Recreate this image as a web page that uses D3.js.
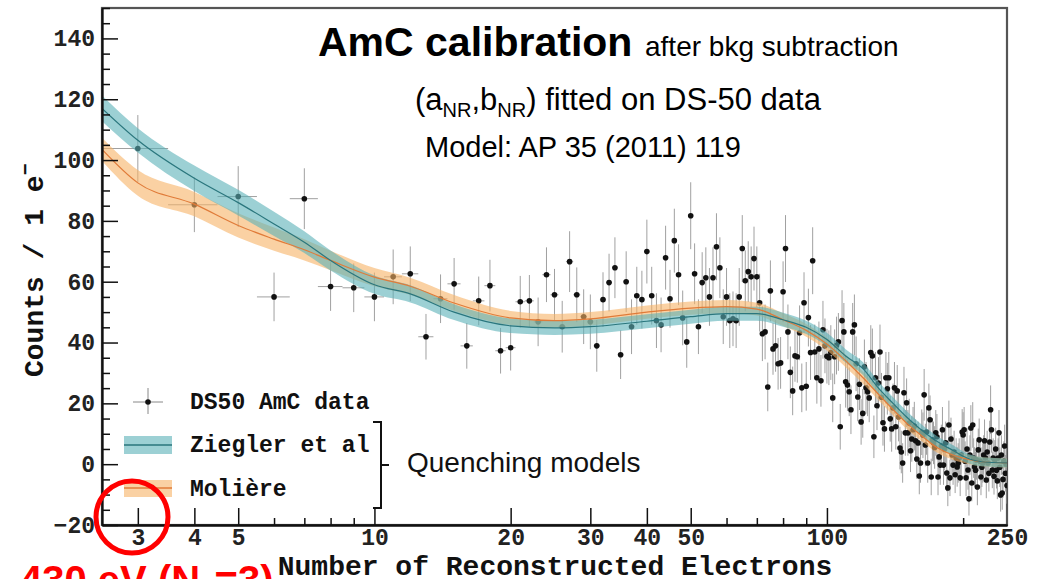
<!DOCTYPE html>
<html>
<head>
<meta charset="utf-8">
<script src="https://cdn.jsdelivr.net/npm/d3@7"></script>
<style>
  body { margin: 0; background: #fff; }
  .mono { font-family: "Liberation Mono", "Courier New", monospace; font-weight: bold; }
  .sans { font-family: "Liberation Sans", Arial, sans-serif; }
</style>
</head>
<body>
<div id="chart"></div>
<script>
// one histogram bin per reconstructed electron, N = 3 ... 250
var nElectrons = d3.range(3, 251);

// counts per bin (after bkg subtraction)
var counts = [
  103.8, 85.3, 88, 55, 87.3, 58.4, 58, 55,
  61.6, 62.6, 41.9, 54.4, 59.3, 38.9, 53.7, 58.7, 37.3, 38.3,
  53.4, 53.7, 46.8, 62.3, 55.7, 45.2, 66.6, 55.7, 48.5, 46.8,
  38.9, 54.1, 59.7, 64.6, 36, 60, 45.2, 55.4, 54.1, 69.9,
  55.4, 47.2, 45.8, 67.9, 54.4, 73.5, 62.3, 48.1, 40.2, 81.7,
  62.6, 45.2, 59.7, 61.3, 55, 61.3, 71.5, 64.6, 48.5, 55,
  47.2, 47.8, 47.2, 55, 70.9, 60.3, 63.3, 61.6, 67.6, 61.6,
  53.1, 42.9, 43.5, 25.4, 57, 37.9, 38.9, 33, 33.3, 56.7,
  70.9, 43.5, 30.2, 24.1, 35.6, 35.3, 43.2, 25.1, 53.1, 25.6,
  48.2, 36.7, 66.9, 36.9, 28.4, 37.9, 27.4, 44.2, 38.9, 35.5,
  35, 36.7, 21.8, 35.3, 39, 40.2, 12.3, 47.2, 43.5, 27.1,
  26, 23.8, 17.9, 43.5, 45.8, 33, 22.1, 26.3, 13.9, 16.7,
  32, 25.1, 23.8, 21.8, 36.7, 35.6, 9, 28.4, 19.2, 26.7,
  36.9, 22, 13.6, 11.6, 28.4, 24.8, 28.4, 14.9, 11.6, 18.5,
  25.1, 12.3, 24.1, 15.5, 5.3, 4, 0.4, 23.5, 10.3, 20.2,
  10.3, 13.5, 4.4, 8.3, 11.3, 12.5, 7.7, 1.7, 7, -3.9,
  0.4, 10.5, 9.5, 22.8, 6.3, 10.6, 0.4, 18.5, 14.6, -4.2,
  8, 7, 5.5, 10.3, 9, -4.2, 2.4, -0.3, 6, 11.3,
  -0.3, 5, 7, -2.9, -7.8, 12.9, -4.5, 8.3, 3, -0.3,
  4, -3.5, 2, -0.9, 0.4, 2, -4.5, 3, 10.6, 9.6,
  11.3, 1, -4.5, 5, -1.9, -11.4, 3, 11.9, -6.2, 12.9,
  2, -0.9, -2, 1.4, -7.5, 4.7, 8, 1, -4.2, -1,
  0.4, 3, 7.7, 2, -5.2, 4, 0.4, -3, 7.3, 17.9,
  11.3, -1.9, 2, -4, 1.4, 5, -2, -5.5, 2, 10.3,
  -1, -10.1, 3, -9.5, -5, 1, 6, -3, 0, -7
];

// half length of the vertical error bars
var errors = [
  11, 9, 10, 8, 10, 8, 8, 8,
  9, 9, 7.5, 8, 8.5, 7.5, 8, 8.5, 7.5, 7.5,
  8.5, 8.5, 8, 9, 8.5, 8.5, 10, 9, 9, 9,
  8.5, 9, 9.5, 10, 8, 10, 9, 9.5, 9.5, 10.5,
  9.5, 9, 9, 10.5, 9.5, 10.5, 10, 9, 8.5, 11,
  10, 9, 10, 10, 9.5, 10, 11, 10, 9, 9.5,
  9, 9, 9, 9.5, 11, 10, 10, 10, 10.5, 10,
  9.5, 9, 9, 8, 10, 8.5, 8.5, 8.5, 8.5, 10,
  11, 9, 8.5, 8, 8.5, 8.5, 9, 8, 10, 8,
  9.5, 9, 11, 9, 8.5, 9, 8.5, 9.5, 9, 9,
  9, 9, 8, 9, 9.5, 9.5, 7.5, 10, 9.5, 8.5,
  8.5, 8, 8, 9.5, 10, 9, 8, 8.5, 7.5, 8,
  9, 8.5, 8, 8, 9, 9, 7, 8.5, 8, 8.5,
  9, 8, 7.5, 7.5, 8.5, 8.5, 8.5, 7.5, 7.5, 8,
  8.5, 7.5, 8.5, 8, 7, 7, 6.5, 8.5, 7.5, 8,
  7.5, 8, 7, 7.5, 7.5, 8, 7, 6.5, 7, 6,
  6.5, 7.5, 7.5, 8.5, 7, 7.5, 6.5, 8, 8, 6,
  7, 7, 7, 7.5, 7.5, 6, 6.5, 6.5, 7, 7.5,
  6.5, 7, 7, 6, 6, 8, 6, 7, 6.5, 6.5,
  7, 6, 6.5, 6.5, 6.5, 6.5, 6, 6.5, 7.5, 7.5,
  7.5, 6.5, 6, 7, 6.5, 5.5, 6.5, 7.5, 6, 7.5,
  6.5, 6.5, 6, 6.5, 6, 7, 7, 6.5, 6, 6.5,
  6.5, 6.5, 7, 6.5, 6, 7, 6.5, 6, 7, 8,
  7.5, 6, 6.5, 6, 6.5, 7, 6, 6, 6.5, 7.5,
  6.5, 5.5, 6.5, 5.5, 6, 6.5, 7, 6, 6.5, 6
];

// quenching model curves
var modelN   = [2.5, 3, 4, 5, 6, 7, 8, 10, 12, 15, 20, 25, 30, 40, 50, 60, 70, 80, 90, 100,
                110, 120, 130, 140, 150, 160, 175, 190, 200, 220, 250];
var ziegler  = [117, 106.5, 94, 86, 79, 73, 67, 59, 56, 50, 45.5, 44.8, 45.2, 47, 48.5, 49.5, 49.5, 47.5, 45, 41,
                35.6, 31.5, 25, 20, 15.5, 11.8, 7.5, 4.5, 2.6, 0.8, 0.4];
var zieglerErr = [4.2, 4, 4.2, 4.2, 4, 3.6, 3.3, 3, 2.8, 2.6, 2.4, 2.3, 2.3, 2.3, 2.3, 2.3, 2.3, 2.3, 2.2, 2.2,
                  2.2, 2.1, 2.1, 2, 2, 1.9, 1.8, 1.7, 1.6, 1.5, 1.5];
var moliere  = [103.5, 92.5, 85.5, 78.5, 74, 70.5, 67, 61.5, 58.5, 53, 48.1, 47.2, 47.8, 50, 51.3, 51.8, 51, 47.5, 44, 39.5,
                34, 28.5, 23, 18, 13.5, 10, 5.5, 3, 2, 0.8, 0.4];
var moliereErr = [3.8, 4.2, 4, 4, 3.8, 3.5, 3.2, 3, 2.8, 2.6, 2.3, 2.2, 2.2, 2.2, 2.2, 2.2, 2.1, 2.1, 2.1, 2.1,
                  2.1, 2, 2, 1.9, 1.9, 1.8, 1.7, 1.6, 1.5, 1.5, 1.5];

// axis ticks
var xMajorTicks = [3, 4, 5, 10, 20, 30, 40, 50, 100];
var xMinorTicks = [6, 7, 8, 9, 60, 70, 80, 90, 200];
var xEndLabel = [250];
var yMajorTicks = [-20, 0, 20, 40, 60, 80, 100, 120, 140];
var yMinorTicks = d3.range(-15, 151, 5).filter(function(v) { return v % 20 !== 0; });

var W = 1041, H = 579;
var pLeft = 102, pRight = 1007, pTop = 8, pBottom = 525;

var svg = d3.select("#chart").append("svg")
    .attr("width", W)
    .attr("height", H)
    .style("display", "block");

svg.append("rect").attr("width", W).attr("height", H).attr("fill", "#fff");

var x = d3.scaleLog().domain([2.5, 250]).range([pLeft, pRight]);
var y = d3.scaleLinear().domain([-20, 150]).range([pBottom, pTop]);

svg.append("defs").append("clipPath").attr("id", "plotclip")
    .append("rect")
    .attr("x", pLeft).attr("y", pTop)
    .attr("width", pRight - pLeft).attr("height", pBottom - pTop);

// frame
svg.append("rect")
    .attr("x", pLeft).attr("y", pTop)
    .attr("width", pRight - pLeft).attr("height", pBottom - pTop)
    .attr("fill", "none")
    .attr("stroke", "#555")
    .attr("stroke-width", 2.2);

var data = nElectrons.map(function(n, i) {
    return { n: n, v: counts[i], e: errors[i] };
});

var plot = svg.append("g").attr("clip-path", "url(#plotclip)");

// error bars
var bars = plot.append("g").attr("stroke", "#a0a0a0").attr("stroke-width", 1);
bars.selectAll("line.v")
    .data(data).enter().append("line")
    .attr("class", "v")
    .attr("x1", function(d) { return x(d.n); })
    .attr("x2", function(d) { return x(d.n); })
    .attr("y1", function(d) { return y(d.v - d.e); })
    .attr("y2", function(d) { return y(d.v + d.e); });
bars.selectAll("line.h")
    .data(data).enter().append("line")
    .attr("class", "h")
    .attr("x1", function(d) { return x(d.n - 0.5); })
    .attr("x2", function(d) { return x(d.n + 0.5); })
    .attr("y1", function(d) { return y(d.v); })
    .attr("y2", function(d) { return y(d.v); });

// data points
plot.append("g").selectAll("circle")
    .data(data).enter().append("circle")
    .attr("cx", function(d) { return x(d.n); })
    .attr("cy", function(d) { return y(d.v); })
    .attr("r", 2.8)
    .attr("fill", "#111");

// model bands
function modelRows(vals, errs) {
    return modelN.map(function(n, i) { return { n: n, v: vals[i], e: errs[i] }; });
}
var band = d3.area()
    .x(function(d) { return x(d.n); })
    .y0(function(d) { return y(d.v - d.e); })
    .y1(function(d) { return y(d.v + d.e); })
    .curve(d3.curveMonotoneX);
var line = d3.line()
    .x(function(d) { return x(d.n); })
    .y(function(d) { return y(d.v); })
    .curve(d3.curveMonotoneX);

var molRows = modelRows(moliere, moliereErr);
var zieRows = modelRows(ziegler, zieglerErr);

var orangeFill = "#f7b266", orangeLine = "#e07b39";
var tealFill = "#5ab0b8", tealLine = "#2a767d";

plot.append("path").datum(molRows)
    .attr("d", band).attr("fill", orangeFill).attr("fill-opacity", 0.6);
plot.append("path").datum(zieRows)
    .attr("d", band).attr("fill", tealFill).attr("fill-opacity", 0.6);
plot.append("path").datum(molRows)
    .attr("d", line).attr("fill", "none").attr("stroke", orangeLine).attr("stroke-width", 1.2);
plot.append("path").datum(zieRows)
    .attr("d", line).attr("fill", "none").attr("stroke", tealLine).attr("stroke-width", 1.2);

// axes
function styleAxis(g) {
    g.selectAll("line").attr("stroke", "#111").attr("stroke-width", 1.5);
    g.selectAll("path").attr("stroke", "#111").attr("stroke-width", 1.8);
    g.selectAll("text")
        .attr("class", "mono")
        .style("font-size", "23px")
        .attr("fill", "#222");
}

svg.append("g")
    .attr("transform", "translate(0," + pBottom + ")")
    .call(d3.axisBottom(x).tickValues(xMinorTicks).tickSize(-7).tickSizeOuter(0).tickFormat(""))
    .call(styleAxis);
svg.append("g")
    .attr("transform", "translate(0," + pBottom + ")")
    .call(d3.axisBottom(x).tickValues(xMajorTicks).tickSize(-17).tickSizeOuter(0).tickPadding(4)
        .tickFormat(d3.format("d")))
    .call(styleAxis);
svg.append("g")
    .attr("transform", "translate(0," + pBottom + ")")
    .call(d3.axisBottom(x).tickValues(xEndLabel).tickSize(0).tickSizeOuter(0).tickPadding(4)
        .tickFormat(d3.format("d")))
    .call(styleAxis)
    .select(".domain").remove();

svg.append("g")
    .attr("transform", "translate(" + pLeft + ",0)")
    .call(d3.axisLeft(y).tickValues(yMinorTicks).tickSize(-8).tickSizeOuter(0).tickFormat(""))
    .call(styleAxis);
svg.append("g")
    .attr("transform", "translate(" + pLeft + ",0)")
    .call(d3.axisLeft(y).tickValues(yMajorTicks).tickSize(-16).tickSizeOuter(0).tickPadding(7))
    .call(styleAxis);

// axis titles
svg.append("text")
    .attr("class", "mono")
    .attr("x", 555).attr("y", 575)
    .attr("text-anchor", "middle")
    .style("font-size", "28px")
    .attr("fill", "#111")
    .text("Number of Reconstructed Electrons");

var yTitle = svg.append("text")
    .attr("class", "mono")
    .attr("transform", "translate(43,377) rotate(-90)")
    .style("font-size", "28px")
    .attr("fill", "#111");
yTitle.append("tspan").text("Counts / 1 e");
yTitle.append("tspan").attr("dy", -11).style("font-size", "20px").text("\u2212");

// legend
var lg = svg.append("g");
lg.append("line").attr("x1", 133).attr("x2", 163).attr("y1", 402).attr("y2", 402)
    .attr("stroke", "#888").attr("stroke-width", 1);
lg.append("line").attr("x1", 148).attr("x2", 148).attr("y1", 388).attr("y2", 414)
    .attr("stroke", "#888").attr("stroke-width", 1);
lg.append("circle").attr("cx", 148).attr("cy", 402).attr("r", 2.8).attr("fill", "#111");

lg.append("rect").attr("x", 124).attr("y", 436).attr("width", 48).attr("height", 18)
    .attr("fill", tealFill).attr("fill-opacity", 0.6);
lg.append("line").attr("x1", 124).attr("x2", 172).attr("y1", 445).attr("y2", 445)
    .attr("stroke", tealLine).attr("stroke-width", 1.3);
lg.append("rect").attr("x", 124).attr("y", 480).attr("width", 48).attr("height", 17)
    .attr("fill", orangeFill).attr("fill-opacity", 0.6);
lg.append("line").attr("x1", 124).attr("x2", 172).attr("y1", 488).attr("y2", 488)
    .attr("stroke", orangeLine).attr("stroke-width", 1.3);

var legendLabels = ["DS50 AmC data", "Ziegler et al", "Moli\u00e8re"];
var legendY = [409, 452, 496];
lg.selectAll("text.lab")
    .data(legendLabels).enter().append("text")
    .attr("class", "mono")
    .attr("x", 190)
    .attr("y", function(d, i) { return legendY[i]; })
    .style("font-size", "23px")
    .attr("fill", "#111")
    .text(function(d) { return d; });

// bracket + annotation
svg.append("path")
    .attr("d", "M373,422H381V508H373M381,465H389")
    .attr("fill", "none").attr("stroke", "#111").attr("stroke-width", 2);
svg.append("text").attr("class", "sans")
    .attr("x", 407).attr("y", 472)
    .style("font-size", "28px").attr("fill", "#111")
    .text("Quenching models");

// titles
svg.append("text").attr("class", "sans")
    .attr("x", 318).attr("y", 56)
    .style("font-size", "41px").style("font-weight", "bold").attr("fill", "#000")
    .text("AmC calibration");
svg.append("text").attr("class", "sans")
    .attr("x", 645).attr("y", 56)
    .style("font-size", "28px").attr("fill", "#000")
    .text("after bkg subtraction");

var fit = svg.append("text").attr("class", "sans")
    .attr("x", 415).attr("y", 110)
    .style("font-size", "31px").attr("fill", "#000");
fit.append("tspan").text("(a");
fit.append("tspan").attr("dy", 7).style("font-size", "20px").text("NR");
fit.append("tspan").attr("dy", -7).text(",b");
fit.append("tspan").attr("dy", 7).style("font-size", "20px").text("NR");
fit.append("tspan").attr("dy", -7).text(") fitted on DS-50 data");

svg.append("text").attr("class", "sans")
    .attr("x", 425).attr("y", 157)
    .style("font-size", "29px").attr("fill", "#000")
    .text("Model: AP 35 (2011) 119");

// red highlight of the N=3 bin
svg.append("circle")
    .attr("cx", 132).attr("cy", 517).attr("r", 36)
    .attr("fill", "none").attr("stroke", "#ff0000").attr("stroke-width", 5);

var red = svg.append("text").attr("class", "sans")
    .attr("x", 20).attr("y", 594)
    .style("font-size", "40px").style("font-weight", "bold").attr("fill", "#ff0000");
red.append("tspan").text("430 eV (N");
red.append("tspan").attr("dy", 8).style("font-size", "26px").text("e");
red.append("tspan").attr("dy", -8).text("=3)");
</script>
</body>
</html>
